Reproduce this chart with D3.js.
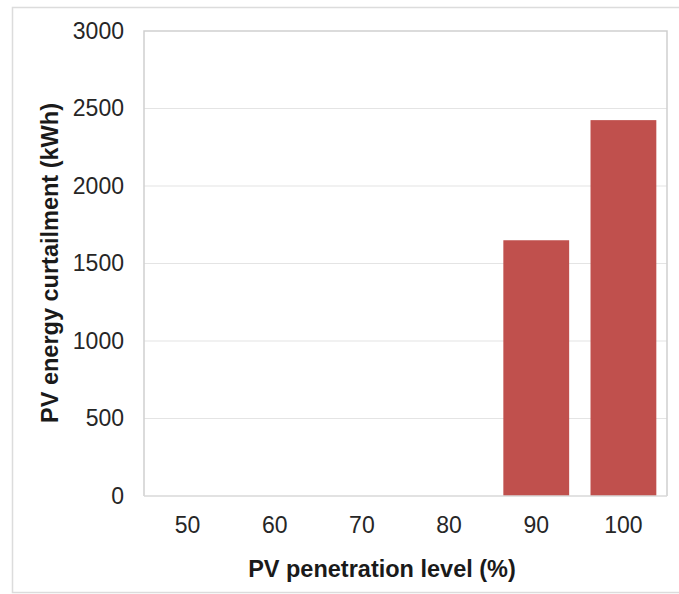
<!DOCTYPE html>
<html>
<head>
<meta charset="utf-8">
<script src="https://cdn.jsdelivr.net/npm/d3@7"></script>
<style>
  body { margin: 0; background: #fff; }
  svg { display: block; font-family: "Liberation Sans", Arial, sans-serif; }
</style>
</head>
<body>
<div id="viz"></div>
<script>
// data
var levels = ["50", "60", "70", "80", "90", "100"];
var curtailment = [0, 0, 0, 0, 1650, 2425];
var yTicks = [0, 500, 1000, 1500, 2000, 2500, 3000];

var width = 679, height = 594;
var plot = { left: 144, right: 667, top: 31, bottom: 496 };

var svg = d3.select("#viz").append("svg")
  .attr("width", width)
  .attr("height", height);

// outer frame
svg.append("rect")
  .attr("x", 12.5).attr("y", 7.5)
  .attr("width", 680).attr("height", 585)
  .attr("fill", "none")
  .attr("stroke", "#dcdcdc")
  .attr("stroke-width", 1.5);

var xScale = d3.scaleBand()
  .domain(levels)
  .range([plot.left, plot.right])
  .paddingInner(0.245)
  .paddingOuter(0.1225);

var yScale = d3.scaleLinear()
  .domain([0, 3000])
  .range([plot.bottom, plot.top]);

// gridlines
svg.append("g").selectAll("line")
  .data(yTicks.filter(function (d) { return d > 0 && d < 3000; }))
  .enter().append("line")
  .attr("x1", plot.left).attr("x2", plot.right)
  .attr("y1", function (d) { return yScale(d); })
  .attr("y2", function (d) { return yScale(d); })
  .attr("stroke", "#e4e4e4")
  .attr("stroke-width", 1.2);

// plot border (top, left, right)
svg.append("path")
  .attr("d", "M" + plot.left + "," + plot.bottom + "V" + plot.top + "H" + plot.right + "V" + plot.bottom)
  .attr("fill", "none")
  .attr("stroke", "#cfcfcf")
  .attr("stroke-width", 1.5);

// bars
svg.append("g").selectAll("rect")
  .data(levels)
  .enter().append("rect")
  .attr("x", function (d) { return xScale(d); })
  .attr("width", xScale.bandwidth())
  .attr("y", function (d, i) { return yScale(curtailment[i]); })
  .attr("height", function (d, i) { return yScale(0) - yScale(curtailment[i]); })
  .attr("fill", "#c0504d");

// baseline
svg.append("line")
  .attr("x1", plot.left).attr("x2", plot.right)
  .attr("y1", plot.bottom).attr("y2", plot.bottom)
  .attr("stroke", "#d9d9d9")
  .attr("stroke-width", 1.5);

var xAxis = d3.axisBottom(xScale).tickSize(0).tickPadding(21);
var yAxis = d3.axisLeft(yScale).tickValues(yTicks).tickFormat(d3.format("d")).tickSize(0).tickPadding(20);

var gx = svg.append("g")
  .attr("transform", "translate(0," + plot.bottom + ")")
  .call(xAxis);
var gy = svg.append("g")
  .attr("transform", "translate(" + plot.left + ",0)")
  .call(yAxis);

[gx, gy].forEach(function (g) {
  g.select(".domain").remove();
  g.selectAll("text")
    .attr("fill", "#262626")
    .style("font-size", "23px")
    .style("font-family", "'Liberation Sans', Arial, sans-serif");
});

// axis titles
svg.append("text")
  .attr("x", 382)
  .attr("y", 577)
  .attr("text-anchor", "middle")
  .attr("fill", "#1a1a1a")
  .style("font-size", "23.5px")
  .style("font-weight", "bold")
  .text("PV penetration level (%)");

svg.append("text")
  .attr("transform", "translate(58,263) rotate(-90)")
  .attr("text-anchor", "middle")
  .attr("fill", "#1a1a1a")
  .style("font-size", "23.5px")
  .style("font-weight", "bold")
  .text("PV energy curtailment (kWh)");
</script>
</body>
</html>
